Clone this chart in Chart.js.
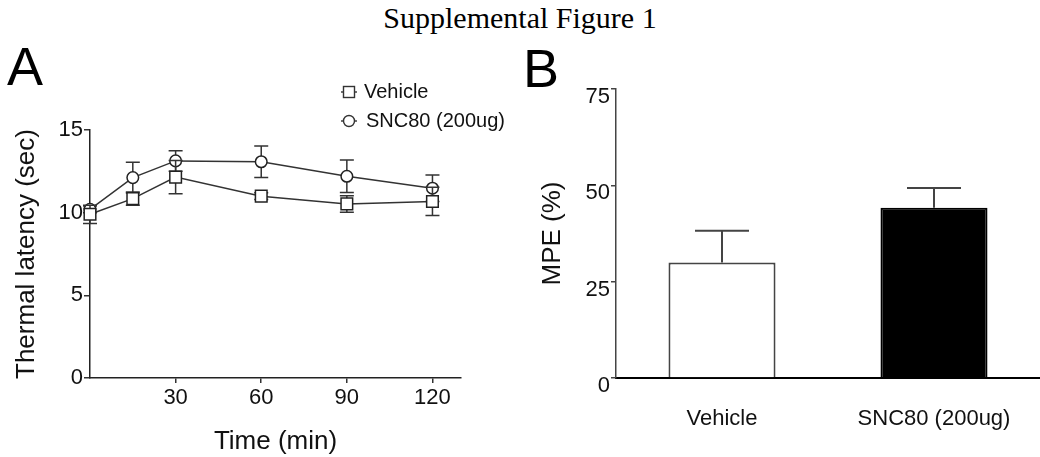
<!DOCTYPE html>
<html><head><meta charset="utf-8">
<script src="https://cdn.jsdelivr.net/npm/chart.js@4"></script>
<style>
html,body{margin:0;padding:0;background:#fff;}
body{width:1040px;height:457px;position:relative;overflow:hidden;}
#title{position:absolute;left:0;top:3px;width:1040px;text-align:center;font-family:"Liberation Serif","Times New Roman",serif;font-size:30px;line-height:30px;color:#000;white-space:nowrap;}
.wrap{position:absolute;top:0;width:520px;height:457px;}
canvas{display:block;}
</style></head><body>
<div id="title">Supplemental Figure 1</div>
<div class="wrap" style="left:0"><canvas id="cA" width="520" height="457"></canvas></div>
<div class="wrap" style="left:520px"><canvas id="cB" width="520" height="457"></canvas></div>
<script>
// ---- Panel A data ----
const timePoints = [0, 15, 30, 60, 90, 120];
const vehicleMean = [9.9, 10.85, 12.15, 11.0, 10.53, 10.68];
const vehicleSem  = [0.55, 0.4, 1.0, 0.2, 0.5, 0.85];
const sncMean     = [10.2, 12.12, 13.13, 13.08, 12.2, 11.48];
const sncSem      = [0.2, 0.93, 0.62, 0.95, 0.98, 0.8];
const timeTicks = [30, 60, 90, 120];
const latencyTicks = [0, 5, 10, 15];
// ---- Panel B data ----
const barLabels = ['Vehicle', 'SNC80 (200ug)'];
const mpeMean = [30.0, 44.2];
const mpeSem  = [8.2, 5.1];
const mpeTicks = [0, 25, 50, 75];

const FAM = "'Liberation Sans', Arial, Helvetica, sans-serif";
Chart.defaults.font.family = FAM;
Chart.defaults.color = '#111';

const toXY = (xs, ys) => xs.map((x, i) => ({x: x, y: ys[i]}));

// error bars for line chart, drawn just before each dataset
const errLinePlugin = {
  id: 'errLine',
  beforeDatasetDraw(chart, args) {
    const ds = chart.data.datasets[args.index];
    const sem = ds.sem;
    if (!sem) return;
    const {ctx, scales: {x, y}} = chart;
    ctx.save();
    ctx.strokeStyle = '#333';
    ctx.lineWidth = 1.5;
    ds.data.forEach((p, i) => {
      const px = x.getPixelForValue(p.x);
      const t = y.getPixelForValue(p.y + sem[i]);
      const b = y.getPixelForValue(p.y - sem[i]);
      ctx.beginPath();
      ctx.moveTo(px, t); ctx.lineTo(px, b);
      ctx.moveTo(px - 7, t); ctx.lineTo(px + 7, t);
      ctx.moveTo(px - 7, b); ctx.lineTo(px + 7, b);
      ctx.stroke();
    });
    ctx.restore();
  }
};

const decorA = {
  id: 'decorA',
  afterDraw(chart) {
    const ctx = chart.ctx;
    ctx.save();
    ctx.fillStyle = '#000';
    ctx.textBaseline = 'alphabetic';
    ctx.textAlign = 'left';
    ctx.font = '54px ' + FAM;
    ctx.fillText('A', 7, 85);
    // legend
    ctx.strokeStyle = '#333';
    ctx.lineWidth = 1.4;
    const lx = 349;
    // vehicle
    ctx.beginPath(); ctx.moveTo(lx - 8, 92); ctx.lineTo(lx + 8, 92); ctx.stroke();
    ctx.fillStyle = '#fff';
    ctx.fillRect(lx - 5.5, 86.5, 11, 11);
    ctx.strokeRect(lx - 5.5, 86.5, 11, 11);
    // snc
    ctx.beginPath(); ctx.moveTo(lx - 8, 121); ctx.lineTo(lx + 8, 121); ctx.stroke();
    ctx.beginPath(); ctx.arc(lx, 121, 5.5, 0, Math.PI * 2); ctx.fill(); ctx.stroke();
    ctx.fillStyle = '#111';
    ctx.font = '20px ' + FAM;
    ctx.textBaseline = 'middle';
    ctx.fillText('Vehicle', 364, 92);
    ctx.fillText('SNC80 (200ug)', 366, 121);
    ctx.restore();
  }
};

new Chart(document.getElementById('cA'), {
  type: 'line',
  data: {
    datasets: [
      {label: 'Vehicle', data: toXY(timePoints, vehicleMean), sem: vehicleSem,
       borderColor: '#333', borderWidth: 1.5, pointStyle: 'rect', pointRadius: 8.2,
       pointBackgroundColor: '#fff', pointBorderColor: '#222', pointBorderWidth: 1.5, clip: false, tension: 0},
      {label: 'SNC80 (200ug)', data: toXY(timePoints, sncMean), sem: sncSem,
       borderColor: '#333', borderWidth: 1.5, pointStyle: 'circle', pointRadius: 5.8,
       pointBackgroundColor: '#fff', pointBorderColor: '#222', pointBorderWidth: 1.5, clip: false, tension: 0}
    ]
  },
  options: {
    responsive: false, animation: false, devicePixelRatio: 1,
    layout: {padding: {left: 0, top: 130, right: 59, bottom: 0}},
    plugins: {legend: {display: false}, tooltip: {enabled: false}},
    scales: {
      x: {
        type: 'linear', min: 0, max: 130,
        afterBuildTicks: s => { s.ticks = timeTicks.map(v => ({value: v})); },
        afterFit: s => { s.height = 79; },
        grid: {display: true, drawOnChartArea: false, drawTicks: true, tickLength: 5, color: '#333', lineWidth: 1.5},
        border: {display: true, color: '#222', width: 1.5},
        ticks: {font: {size: 22}, color: '#111', padding: 2, maxRotation: 0, autoSkip: false},
        title: {display: true, text: 'Time (min)', font: {size: 26}, color: '#111', padding: {top: 0, bottom: 0}}
      },
      y: {
        type: 'linear', min: 0, max: 15,
        afterBuildTicks: s => { s.ticks = latencyTicks.map(v => ({value: v})); },
        afterFit: s => { s.width = 90; },
        grid: {display: true, drawOnChartArea: false, drawTicks: true, tickLength: 6, color: '#333', lineWidth: 1.5},
        border: {display: true, color: '#222', width: 1.5},
        ticks: {font: {size: 22}, color: '#111', padding: 1, autoSkip: false},
        title: {display: true, text: 'Thermal latency (sec)', font: {size: 26}, color: '#111', padding: {top: 11, bottom: 0}}
      }
    }
  },
  plugins: [errLinePlugin, decorA]
});

const errBarPlugin = {
  id: 'errBar',
  afterDatasetsDraw(chart) {
    const {ctx, scales: {y}} = chart;
    const meta = chart.getDatasetMeta(0);
    ctx.save();
    ctx.strokeStyle = '#444';
    ctx.lineWidth = 2;
    meta.data.forEach((el, i) => {
      const top = y.getPixelForValue(mpeMean[i] + mpeSem[i]);
      ctx.beginPath();
      ctx.moveTo(el.x, el.y); ctx.lineTo(el.x, top);
      ctx.moveTo(el.x - 27, top); ctx.lineTo(el.x + 27, top);
      ctx.stroke();
    });
    ctx.restore();
  }
};
const decorB = {
  id: 'decorB',
  afterDraw(chart) {
    const ctx = chart.ctx;
    ctx.save();
    ctx.fillStyle = '#000';
    ctx.textBaseline = 'alphabetic';
    ctx.font = '54px ' + FAM;
    ctx.fillText('B', 3, 87);
    ctx.restore();
  }
};

new Chart(document.getElementById('cB'), {
  type: 'bar',
  data: {
    labels: barLabels,
    datasets: [{
      data: mpeMean,
      backgroundColor: ['#ffffff', '#000000'],
      borderColor: ['#444444', '#000000'],
      borderWidth: 2,
      barPercentage: 0.505, categoryPercentage: 1.0
    }]
  },
  options: {
    responsive: false, animation: false, devicePixelRatio: 1,
    layout: {padding: {left: 0, top: 89, right: 0, bottom: 0}},
    plugins: {legend: {display: false}, tooltip: {enabled: false}},
    scales: {
      x: {
        afterFit: s => { s.height = 79; },
        grid: {display: false},
        border: {display: true, color: '#000', width: 2},
        ticks: {font: {size: 22}, color: '#111', padding: 20, maxRotation: 0, autoSkip: false}
      },
      y: {
        min: 0, max: 75,
        afterBuildTicks: s => { s.ticks = mpeTicks.map(v => ({value: v})); },
        afterFit: s => { s.width = 96; },
        grid: {display: true, drawOnChartArea: false, drawTicks: true, tickLength: 5, color: '#444', lineWidth: 1.5},
        border: {display: true, color: '#444', width: 1.5},
        ticks: {font: {size: 22}, color: '#111', padding: 1, labelOffset: 8, autoSkip: false},
        title: {display: true, text: 'MPE (%)', font: {size: 26}, color: '#111', padding: {top: 17, bottom: 0}}
      }
    }
  },
  plugins: [errBarPlugin, decorB]
});
</script>
</body></html>
